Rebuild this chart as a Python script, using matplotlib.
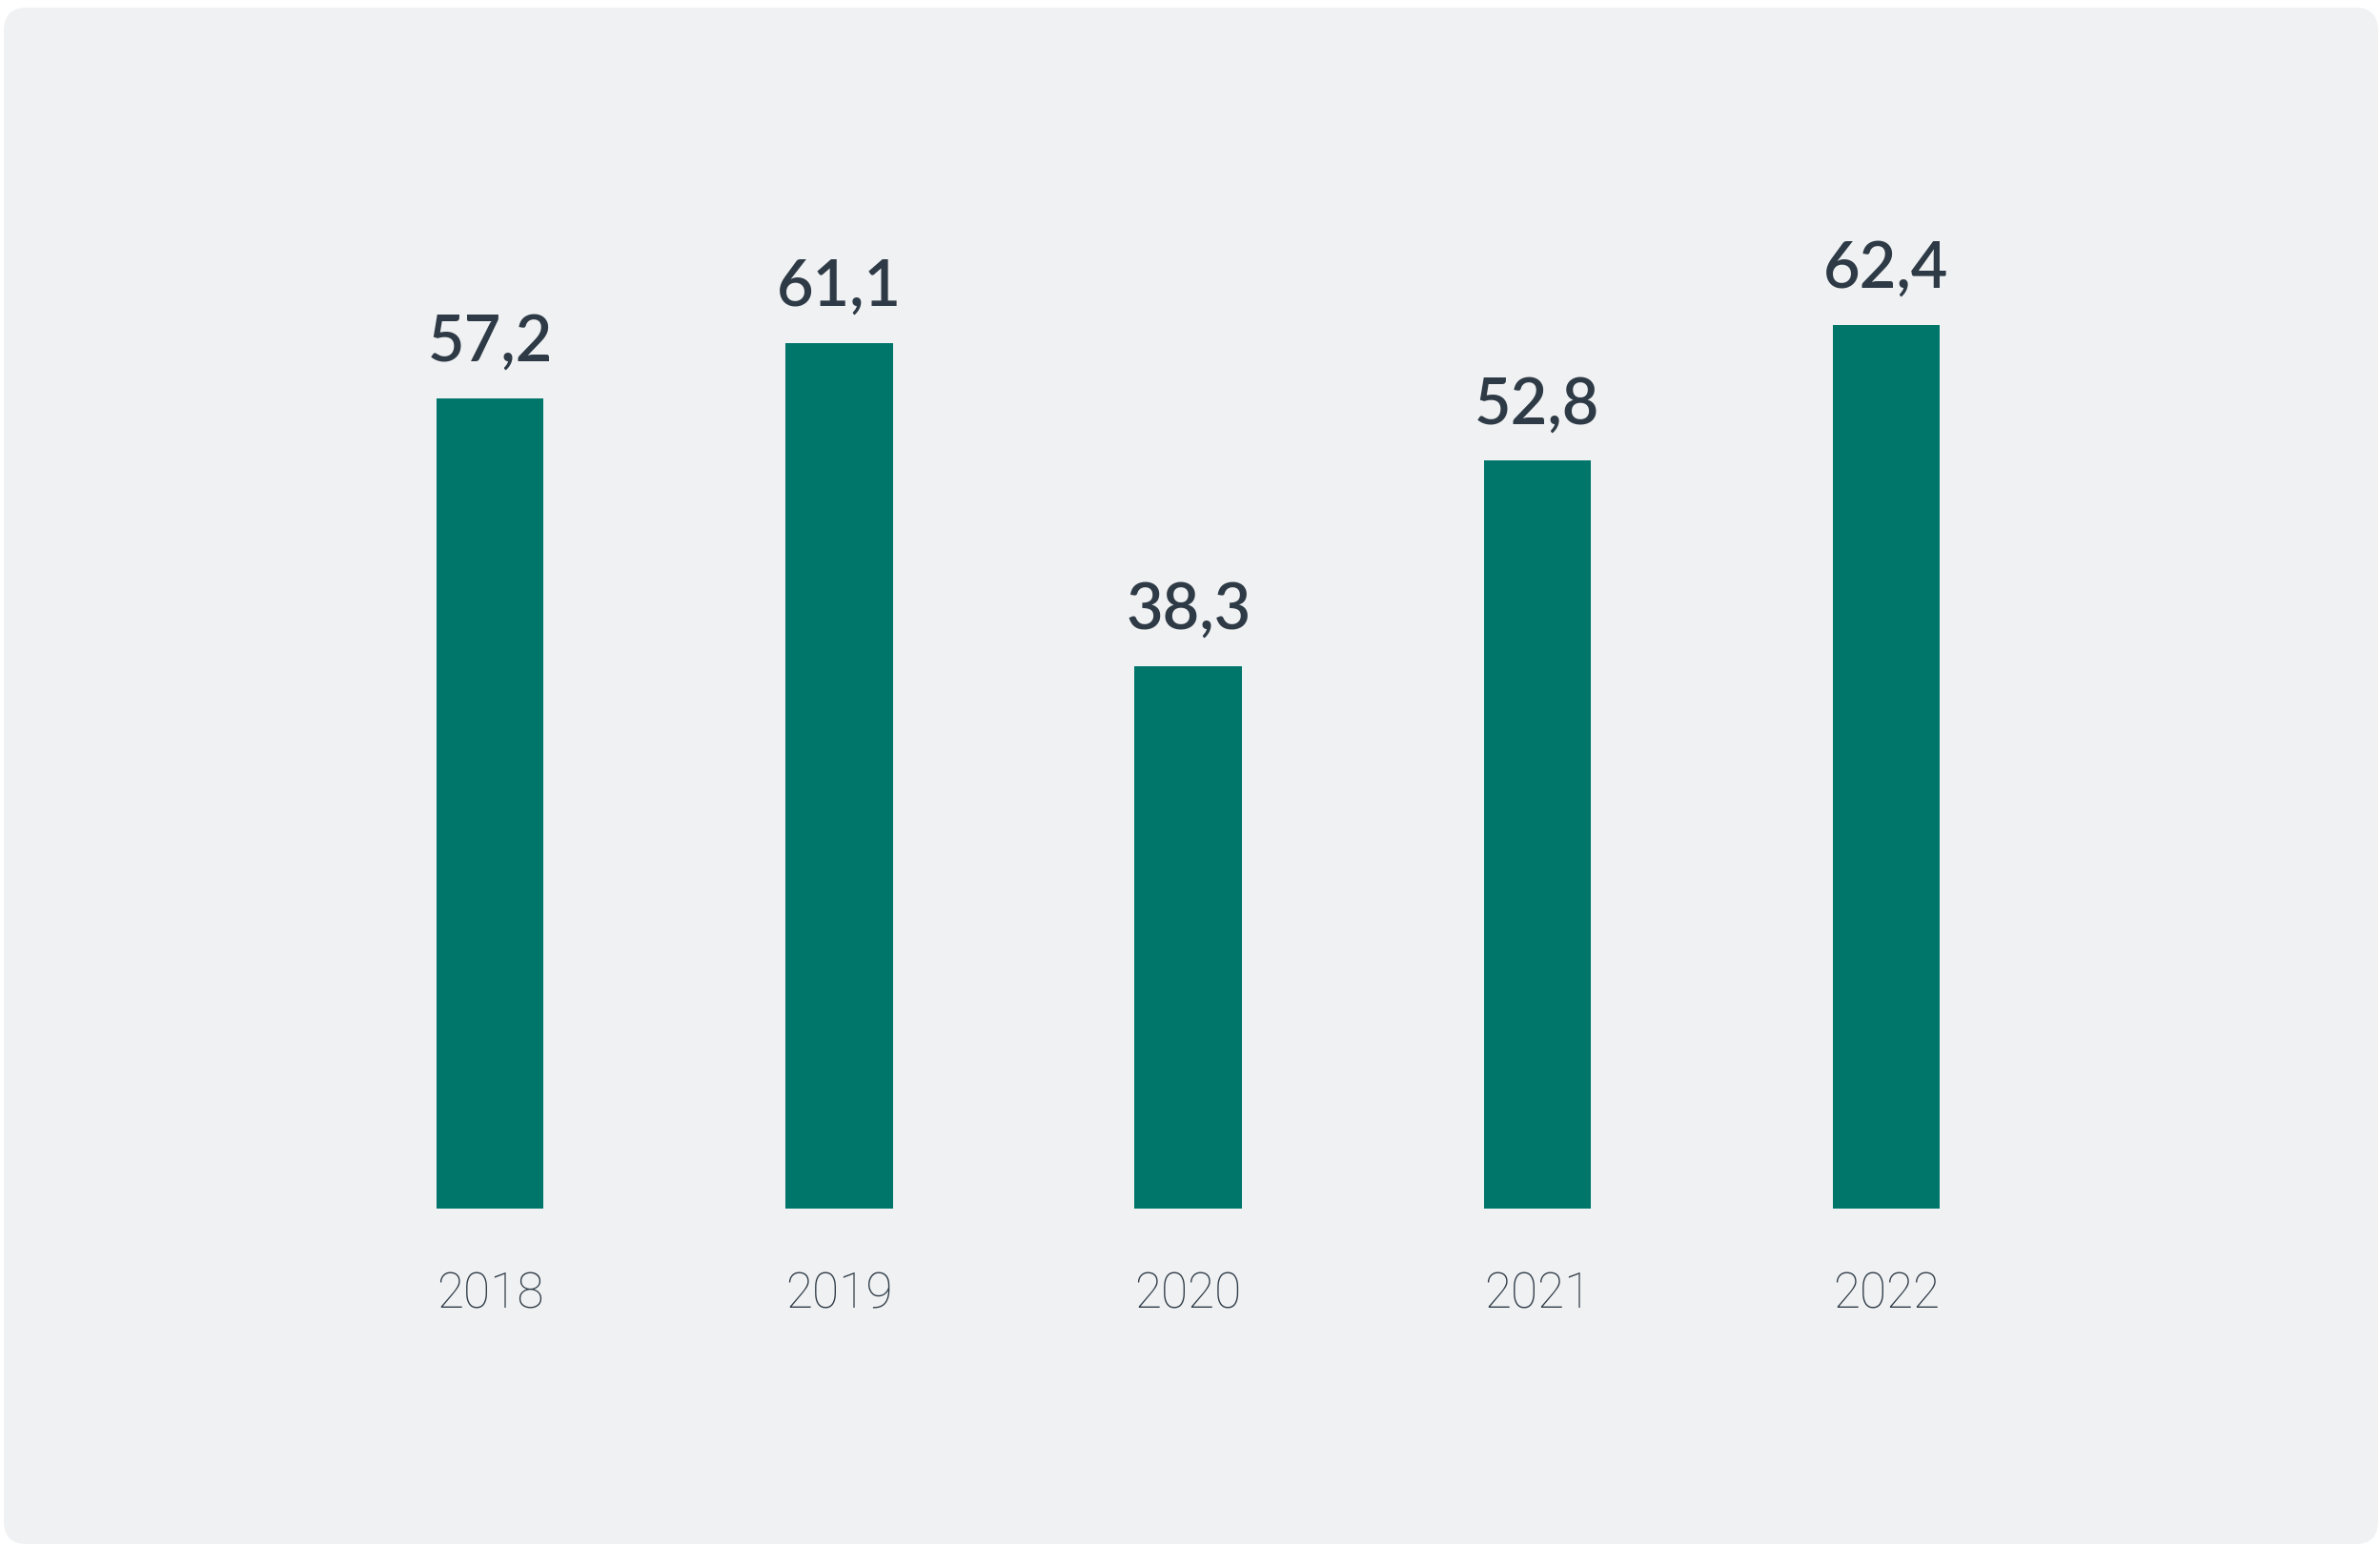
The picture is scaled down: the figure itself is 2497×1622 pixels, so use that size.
import matplotlib
matplotlib.use("Agg")
import matplotlib.pyplot as plt
from matplotlib.patches import FancyBboxPatch

years = ["2018", "2019", "2020", "2021", "2022"]
values = [57.2, 61.1, 38.3, 52.8, 62.4]
value_labels = ["57,2", "61,1", "38,3", "52,8", "62,4"]

bar_color = "#00766b"
text_color = "#2e3b46"
panel_color = "#f0f1f3"

plt.rcParams['font.family'] = ['Lato', 'DejaVu Sans']

W, H = 2497, 1622
fig = plt.figure(figsize=(W / 100, H / 100), dpi=100)
fig.patch.set_facecolor("white")

# rounded panel behind everything
bg = fig.add_axes([0, 0, 1, 1])
bg.set_xlim(0, W)
bg.set_ylim(H, 0)
bg.axis("off")
bg.add_patch(FancyBboxPatch((4, 8), W - 6, H - 10,
                            boxstyle="round,pad=0,rounding_size=24",
                            facecolor=panel_color, edgecolor="none"))

ax = fig.add_axes([0.1326, 0.2182, 0.7333, 0.6387])
ax.patch.set_alpha(0)
x = range(len(years))
bars = ax.bar(x, values, width=0.307, color=bar_color)
ax.set_xlim(-0.5, 4.5)
ax.set_ylim(0, 69.7)

for b, lab in zip(bars, value_labels):
    ax.annotate(lab, (b.get_x() + b.get_width() / 2, b.get_height()),
                xytext=(0, 28), textcoords="offset points",
                ha="center", va="baseline", fontsize=48,
                fontweight="semibold", color=text_color)

ax.set_xticks(list(x))
ax.set_xticklabels(years, fontsize=37, color=text_color,
                   family=["Roboto", "DejaVu Sans"], fontweight="light")
ax.tick_params(axis="x", length=0, pad=47)
ax.set_yticks([])
for s in ax.spines.values():
    s.set_visible(False)

fig.savefig("out.png", dpi=100)
